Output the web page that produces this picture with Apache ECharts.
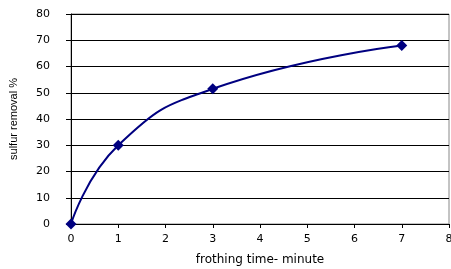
<!DOCTYPE html>
<html>
<head>
<meta charset="utf-8">
<script src="https://cdn.jsdelivr.net/npm/echarts@6/dist/echarts.min.js"></script>
<style>
  html, body { margin: 0; padding: 0; background: #fff; }
  #chart { width: 451px; height: 269px; }
</style>
</head>
<body>
<div id="chart"></div>
<script>
// 数据
const times = [0, 1, 3, 7];
const removal = [0, 30, 51.5, 68];

const chart = echarts.init(document.getElementById('chart'));
const font = 'DejaVu Sans, Arial, sans-serif';

const option = {
  animation: false,
  backgroundColor: '#fff',
  grid: {
    left: 71, right: 2, top: 14, bottom: 45,
    outerBoundsMode: 'none',
    show: true, borderColor: '#888', borderWidth: 1
  },
  xAxis: {
    type: 'value',
    min: 0, max: 8, interval: 1,
    name: 'frothing time- minute',
    nameLocation: 'middle',
    nameGap: 30,
    nameTextStyle: { color: '#000', fontSize: 12, fontFamily: font },
    axisLine: { lineStyle: { color: '#000' } },
    axisTick: { show: true, length: 4, lineStyle: { color: '#000' } },
    axisLabel: { color: '#000', fontSize: 11, fontFamily: font, margin: 10 },
    splitLine: { show: false }
  },
  yAxis: {
    type: 'value',
    min: 0, max: 80, interval: 10,
    name: 'sulfur removal %',
    nameLocation: 'middle',
    nameGap: 52,
    nameTextStyle: { color: '#000', fontSize: 11, fontFamily: 'Liberation Sans, sans-serif' },
    axisLine: { show: true, lineStyle: { color: '#000' } },
    axisTick: { show: true, length: 5, lineStyle: { color: '#000' } },
    axisLabel: { color: '#000', fontSize: 11, fontFamily: font, margin: 21 },
    splitLine: { show: true, lineStyle: { color: '#000', width: 1 } }
  },
  series: [{
    type: 'line',
    data: times.map((t, i) => [t, removal[i]]),
    smooth: 0.5,
    symbol: 'diamond',
    symbolSize: 11,
    lineStyle: { color: '#000080', width: 2 },
    itemStyle: { color: '#000080' }
  }]
};

chart.setOption(option);
</script>
</body>
</html>
